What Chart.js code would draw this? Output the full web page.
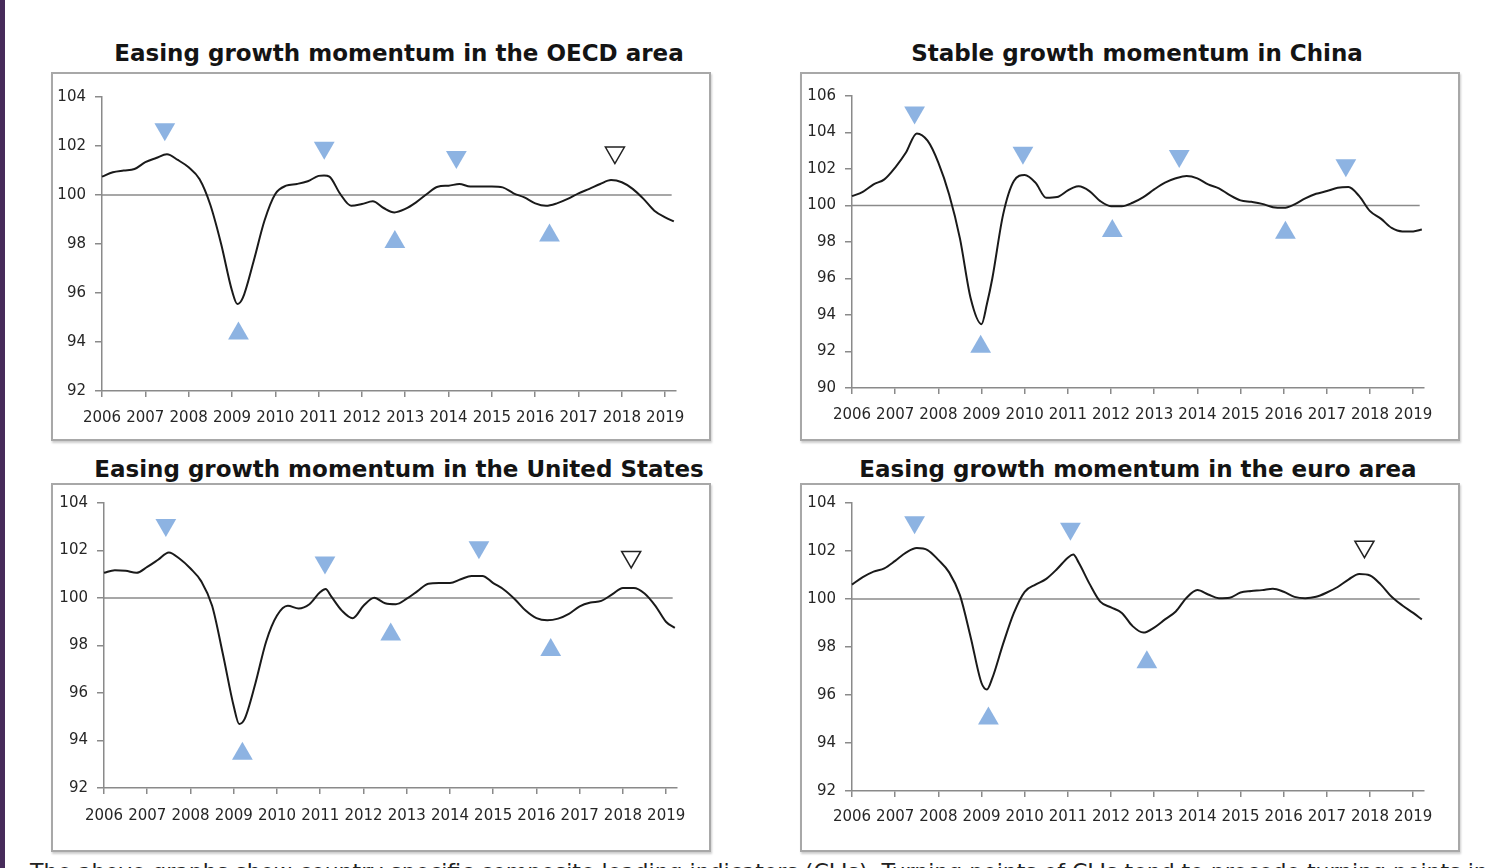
<!DOCTYPE html>
<html>
<head>
<meta charset="utf-8">
<script src="https://cdn.jsdelivr.net/npm/chart.js@4.4.1/dist/chart.umd.min.js"></script>
<style>
html, body { margin: 0; padding: 0; background: #fff; width: 1502px; height: 868px; overflow: hidden; position: relative; font-family: "DejaVu Sans", sans-serif; }
.strip { position: absolute; left: 0; top: 0; width: 5px; height: 868px; background: #472b5a; }
.title { position: absolute; font-weight: bold; font-size: 23px; color: #141414; white-space: nowrap; transform: translateX(-50%); }
.box { position: absolute; width: 660px; height: 369px; box-sizing: border-box; border: 2px solid #a8a8a8; box-shadow: 1px 2px 2px rgba(0,0,0,0.2); background: #fff; }
.box canvas { position: absolute; left: 0; top: 0; }
.note { position: absolute; left: 30px; top: 859px; font-size: 22px; color: #222; white-space: nowrap; }
</style>
</head>
<body>
<div class="strip"></div>

<div class="title" style="left:399px; top:40px;">Easing growth momentum in the OECD area</div>
<div class="title" style="left:1137px; top:40px;">Stable growth momentum in China</div>
<div class="title" style="left:399px; top:456px;">Easing growth momentum in the United States</div>
<div class="title" style="left:1138px; top:456px;">Easing growth momentum in the euro area</div>

<div class="box" style="left:51px; top:72px;"><canvas id="oecdChart" width="656" height="365"></canvas></div>
<div class="box" style="left:800px; top:72px;"><canvas id="chinaChart" width="656" height="365"></canvas></div>
<div class="box" style="left:51px; top:483px;"><canvas id="usChart" width="656" height="365"></canvas></div>
<div class="box" style="left:800px; top:483px;"><canvas id="euroChart" width="656" height="365"></canvas></div>

<div class="note">The above graphs show country specific composite leading indicators (CLIs). Turning points of CLIs tend to precede turning points in</div>

<script>
// dates as decimal years (quarterly, plus a few extra points near the sharp turns)
const dates = [
    2006, 2006.25, 2006.5, 2006.75,
    2007, 2007.25, 2007.5, 2007.75,
    2008, 2008.25, 2008.5, 2008.75,
    2009, 2009.125, 2009.25, 2009.5, 2009.75,
    2010, 2010.25, 2010.5, 2010.75,
    2011, 2011.125, 2011.25, 2011.5, 2011.75,
    2012, 2012.25, 2012.5, 2012.75,
    2013, 2013.25, 2013.5, 2013.75,
    2014, 2014.25, 2014.5, 2014.75,
    2015, 2015.25, 2015.5, 2015.75,
    2016, 2016.25, 2016.5, 2016.75,
    2017, 2017.25, 2017.5, 2017.75,
    2018, 2018.25, 2018.5, 2018.75,
    2019, 2019.2
];

const yearLabels = ['2006', '2007', '2008', '2009', '2010', '2011', '2012',
                    '2013', '2014', '2015', '2016', '2017', '2018', '2019'];

const oecd = [
    100.75, 100.93, 101.0, 101.06,
    101.34, 101.51, 101.66, 101.43,
    101.13, 100.65, 99.6, 98.0,
    96.1, 95.55, 95.8, 97.3, 98.95,
    100.04, 100.38, 100.45, 100.56,
    100.78, 100.8, 100.75, 100.04, 99.56,
    99.63, 99.74, 99.47, 99.29,
    99.43, 99.7, 100.04, 100.34,
    100.38, 100.45, 100.35, 100.35,
    100.35, 100.31, 100.07, 99.9,
    99.66, 99.56, 99.66, 99.84,
    100.07, 100.25, 100.45, 100.61,
    100.52, 100.25, 99.84, 99.36,
    99.09, 98.92
];

const china = [
    100.51, 100.75, 101.16, 101.43,
    102.08, 102.9, 103.95, 103.55,
    102.35, 100.6, 98.2, 94.9,
    93.5, 94.6, 96.0, 99.5, 101.34,
    101.67, 101.25, 100.42, 100.46,
    100.83, 100.98, 101.05, 100.79, 100.24,
    99.96, 99.96, 100.15, 100.46,
    100.88, 101.25, 101.49, 101.62,
    101.49, 101.16, 100.94, 100.57,
    100.28, 100.2, 100.09, 99.91,
    99.87, 100.06, 100.39, 100.64,
    100.79, 100.97, 101.01, 100.51,
    99.69, 99.28, 98.77, 98.58,
    98.58, 98.68
];

const us = [
    101.06, 101.17, 101.15, 101.06,
    101.31, 101.61, 101.92, 101.65,
    101.24, 100.7, 99.67, 97.63,
    95.44, 94.7, 94.9, 96.4, 98.17,
    99.26, 99.67, 99.56, 99.74,
    100.25, 100.38, 100.08, 99.47, 99.15,
    99.67, 100.01, 99.78, 99.74,
    99.97, 100.29, 100.6, 100.63,
    100.63, 100.79, 100.93, 100.93,
    100.63, 100.35, 99.95, 99.47,
    99.15, 99.06, 99.13, 99.33,
    99.65, 99.81, 99.88, 100.15,
    100.42, 100.42, 100.19, 99.67,
    98.99, 98.74
];

const euro = [
    100.6, 100.91, 101.14, 101.28,
    101.59, 101.93, 102.12, 102.04,
    101.63, 101.11, 100.16, 98.4,
    96.5, 96.23, 96.7, 98.13, 99.42,
    100.3, 100.6, 100.84, 101.25,
    101.72, 101.85, 101.52, 100.64, 99.89,
    99.65, 99.42, 98.87, 98.6,
    98.81, 99.15, 99.48, 100.05,
    100.37, 100.19, 100.03, 100.05,
    100.27, 100.33, 100.37, 100.43,
    100.3, 100.09, 100.03, 100.09,
    100.27, 100.5, 100.81, 101.04,
    100.98, 100.6, 100.09, 99.73,
    99.42, 99.15
];

// turning point markers [year, level]
const oecdPeaks    = [[2007.45, 102.68], [2011.13, 101.93], [2014.18, 101.55]];
const oecdTroughs  = [[2009.15, 94.35], [2012.76, 98.08], [2016.33, 98.35]];
const oecdPossible = [[2017.84, 101.73]];

const chinaPeaks    = [[2007.45, 105.1], [2009.96, 102.89], [2013.58, 102.71], [2017.44, 102.21]];
const chinaTroughs  = [[2008.98, 92.26], [2012.03, 98.6], [2016.04, 98.51]];
const chinaPossible = [];

const usPeaks    = [[2007.43, 103.07], [2011.11, 101.5], [2014.67, 102.14]];
const usTroughs  = [[2009.2, 93.44], [2012.63, 98.46], [2016.33, 97.81]];
const usPossible = [[2018.19, 101.73]];

const euroPeaks    = [[2007.45, 103.2], [2011.06, 102.93]];
const euroTroughs  = [[2009.16, 95.02], [2012.83, 97.36]];
const euroPossible = [[2017.87, 102.18]];

const baseLevel = 100;
const baseEnd = 2019.15;

const tickFont = { family: 'DejaVu Sans', size: 15 };
const axisColor = '#8a8a8a';
const markerBlue = '#8db3e2';

function toPoints(list) {
    return list.map(p => ({ x: p[0], y: p[1] }));
}

function makeChart(id, values, yMin, yMax, peaks, troughs, possible, area) {
    const W = 656, H = 365;
    const ctx = document.getElementById(id);
    return new Chart(ctx, {
        type: 'line',
        data: {
            datasets: [
                {
                    data: dates.map((d, i) => ({ x: d, y: values[i] })),
                    borderColor: '#1a1a1a',
                    borderWidth: 2,
                    pointRadius: 0,
                    cubicInterpolationMode: 'monotone',
                    fill: false
                },
                {
                    data: [{ x: 2006, y: baseLevel }, { x: baseEnd, y: baseLevel }],
                    borderColor: axisColor,
                    borderWidth: 1.5,
                    pointRadius: 0,
                    fill: false
                },
                {
                    data: toPoints(peaks),
                    showLine: false,
                    pointStyle: 'triangle',
                    rotation: 180,
                    pointRadius: 12,
                    pointBackgroundColor: markerBlue,
                    pointBorderColor: markerBlue,
                    pointBorderWidth: 0
                },
                {
                    data: toPoints(troughs),
                    showLine: false,
                    pointStyle: 'triangle',
                    rotation: 0,
                    pointRadius: 12,
                    pointBackgroundColor: markerBlue,
                    pointBorderColor: markerBlue,
                    pointBorderWidth: 0
                },
                {
                    data: toPoints(possible),
                    showLine: false,
                    pointStyle: 'triangle',
                    rotation: 180,
                    pointRadius: 11,
                    pointBackgroundColor: '#ffffff',
                    pointBorderColor: '#222',
                    pointBorderWidth: 1.5
                }
            ]
        },
        options: {
            responsive: false,
            animation: false,
            devicePixelRatio: 1,
            events: [],
            clip: false,
            layout: { padding: { left: 0, top: area.top, right: W - area.right, bottom: 0 } },
            plugins: { legend: { display: false }, tooltip: { enabled: false } },
            scales: {
                x: {
                    type: 'linear',
                    min: 2006,
                    max: 2019.25,
                    afterBuildTicks: ax => { ax.ticks = yearLabels.map(y => ({ value: Number(y) })); },
                    afterFit: ax => { ax.height = H - area.bottom; },
                    ticks: {
                        autoSkip: false,
                        maxRotation: 0,
                        padding: area.labelPad,
                        color: '#262626',
                        font: tickFont,
                        callback: (v, i) => yearLabels[i]
                    },
                    grid: { drawOnChartArea: false, drawTicks: true, tickLength: 6, color: axisColor, lineWidth: 1.5 },
                    border: { color: axisColor, width: 1.5 }
                },
                y: {
                    min: yMin,
                    max: yMax,
                    afterFit: ax => { ax.width = area.left; },
                    ticks: { stepSize: 2, padding: 9, color: '#262626', font: tickFont },
                    grid: { drawOnChartArea: false, drawTicks: true, tickLength: 7, color: axisColor, lineWidth: 1.5 },
                    border: { color: axisColor, width: 1.5 }
                }
            }
        }
    });
}

makeChart('oecdChart', oecd, 92, 104, oecdPeaks, oecdTroughs, oecdPossible,
    { left: 49, right: 623, top: 23, bottom: 317, labelPad: 12 });
makeChart('chinaChart', china, 90, 106, chinaPeaks, chinaTroughs, chinaPossible,
    { left: 50, right: 622, top: 22, bottom: 314, labelPad: 12 });
makeChart('usChart', us, 92, 104, usPeaks, usTroughs, usPossible,
    { left: 51, right: 624, top: 10, bottom: 303, labelPad: 13 });
makeChart('euroChart', euro, 92, 104, euroPeaks, euroTroughs, euroPossible,
    { left: 50, right: 622, top: 11, bottom: 306, labelPad: 11 });
</script>
</body>
</html>
